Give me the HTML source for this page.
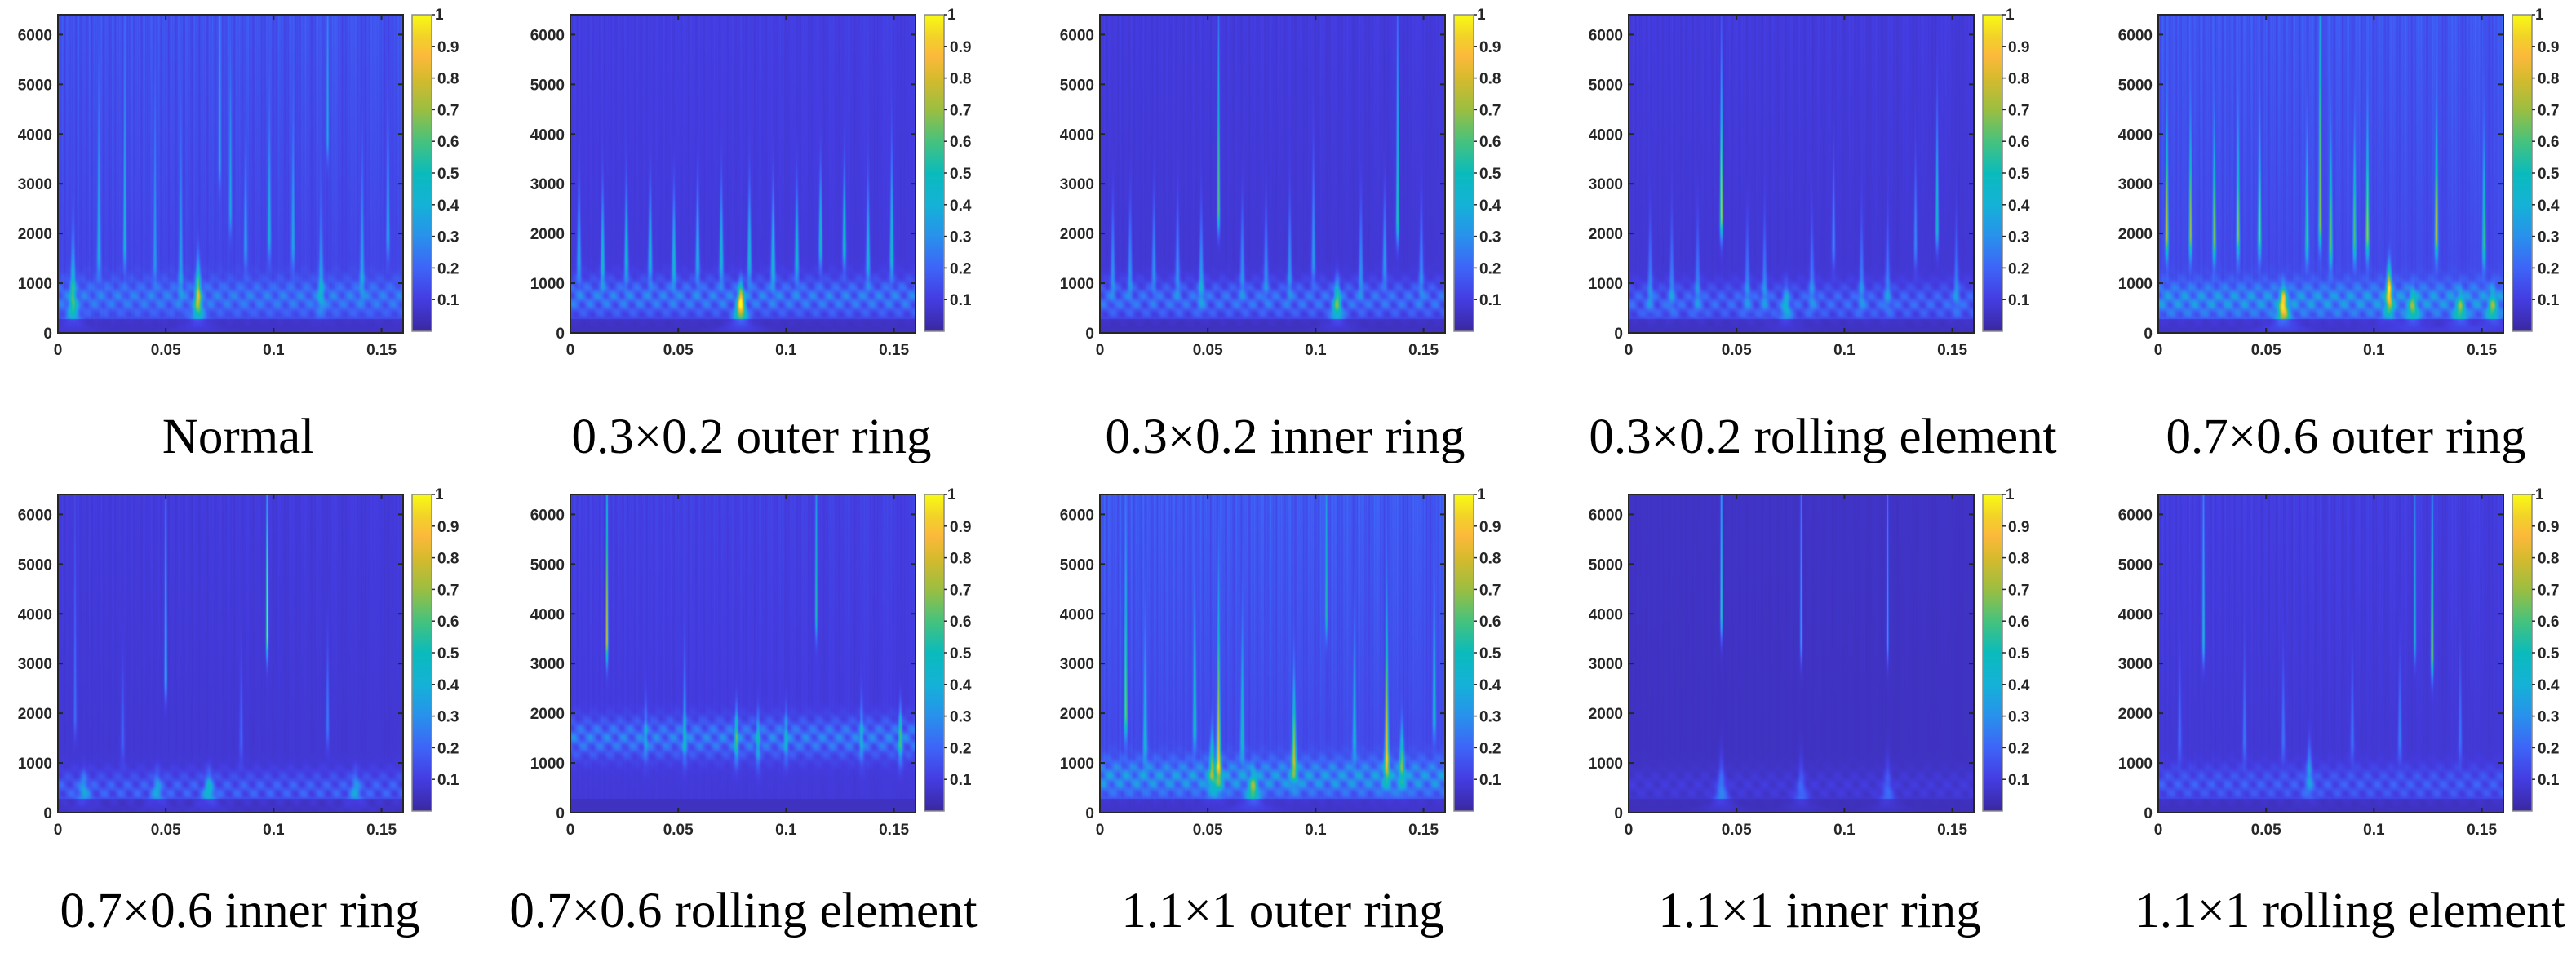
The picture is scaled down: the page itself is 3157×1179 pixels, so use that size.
<!DOCTYPE html>
<html><head><meta charset="utf-8">
<style>
html,body{margin:0;padding:0;background:#fff;}
#root{position:relative;width:3157px;height:1179px;overflow:hidden;background:#fff;}
canvas{position:absolute;}
svg{position:absolute;left:0;top:0;}
.tl{font-family:"Liberation Sans",sans-serif;font-weight:bold;font-size:19px;fill:#262626;}
.title{font-family:"Liberation Serif",serif;font-size:61px;fill:#000;}
</style></head>
<body>
<div id="root">
<svg id="ov" width="3157" height="1179"></svg>
</div>
<script>
const titles = ["Normal","0.3×0.2 outer ring","0.3×0.2 inner ring","0.3×0.2 rolling element","0.7×0.6 outer ring",
 "0.7×0.6 inner ring","0.7×0.6 rolling element","1.1×1 outer ring","1.1×1 inner ring","1.1×1 rolling element"];
const xTicks = [0,0.05,0.1,0.15];
const xTickLabels = ["0","0.05","0.1","0.15"];
const yTicks = [0,1000,2000,3000,4000,5000,6000];
const cbTicks = [0.1,0.2,0.3,0.4,0.5,0.6,0.7,0.8,0.9,1];
// levels: [background, lowBandAmp, lowBandFreq, striation]
const p1Level=[0.10,0.18,700,0.09];
const p1Times=[0.007,0.019,0.031,0.045,0.057,0.065,0.075,0.080,0.087,0.098,0.109,0.122,0.125,0.141,0.153];
const p1Amps =[0.40,0.30,0.30,0.22,0.22,0.60,0.30,0.25,0.25,0.30,0.25,0.25,0.32,0.25,0.30];
const p1Peaks=[600,1600,1800,1500,1200,700,3500,2500,1800,2000,1800,900,4000,1200,2000];
const p1Wup  =[1200,3000,3000,3000,2500,700,3000,2500,1500,2000,2000,1500,3000,2000,2000];
const p2Level=[0.08,0.22,700,0.04];
const p2Times=[0.004,0.015,0.026,0.037,0.048,0.059,0.070,0.079,0.083,0.094,0.105,0.116,0.127,0.138,0.149];
const p2Amps =[0.32,0.36,0.36,0.36,0.36,0.36,0.36,0.80,0.36,0.40,0.36,0.40,0.40,0.36,0.40];
const p2Peaks=[1500,1400,1500,1500,1400,1500,1500,600,1500,1400,1500,1800,1800,1500,1600];
const p2Wup  =[1300,1300,1300,1300,1300,1300,1300,350,1300,1300,1300,1300,1300,1300,1800];
const p3Level=[0.07,0.20,650,0.04];
const p3Times=[0.006,0.014,0.025,0.036,0.047,0.055,0.066,0.077,0.088,0.099,0.110,0.121,0.132,0.138,0.149];
const p3Amps =[0.22,0.22,0.22,0.22,0.26,0.55,0.22,0.22,0.22,0.26,0.45,0.22,0.26,0.50,0.22];
const p3Peaks=[1200,1200,1300,1200,1000,2500,1200,1200,1200,1500,600,1200,1400,2300,1200];
const p3Wup  =[1300,1300,1300,1300,1300,3500,1300,1300,1300,1800,450,1300,1300,3500,1300];
const p4Level=[0.07,0.17,600,0.04];
const p4Times=[0.010,0.020,0.032,0.043,0.055,0.063,0.073,0.085,0.095,0.108,0.120,0.133,0.143,0.152];
const p4Amps =[0.18,0.18,0.18,0.75,0.18,0.18,0.25,0.18,0.22,0.18,0.18,0.22,0.42,0.18];
const p4Peaks=[900,900,900,2400,900,900,500,900,1800,900,900,1800,2200,900];
const p4Wup  =[1300,1300,1300,2500,1300,1300,450,1300,1500,1300,1300,1500,2000,1300];
const p5Level=[0.11,0.25,650,0.09];
const p5Times=[0.004,0.015,0.026,0.037,0.047,0.058,0.069,0.075,0.080,0.091,0.097,0.107,0.118,0.129,0.140,0.151,0.155];
const p5Amps =[0.65,0.60,0.55,0.60,0.60,0.75,0.50,0.55,0.50,0.50,0.65,0.75,0.42,0.65,0.42,0.45,0.40];
const p5Peaks=[2000,2000,1900,2000,2000,550,1900,2200,1800,1900,2000,850,500,2000,450,1800,500];
const p5Wup  =[1800,1800,1800,1800,1800,350,1800,4000,1800,1800,1800,500,350,1800,350,1800,350];
const p6Level=[0.07,0.15,450,0.04];
const p6Times=[0.008,0.012,0.030,0.046,0.050,0.070,0.085,0.097,0.125,0.138];
const p6Amps =[0.15,0.20,0.12,0.20,0.42,0.28,0.12,0.80,0.18,0.18];
const p6Peaks=[2000,450,1500,450,2800,450,1500,3600,1800,450];
const p6Wup  =[4000,350,1500,350,3500,350,1500,3000,1500,350];
const p7Level=[0.08,0.22,1500,0.05];
const p7Times=[0.017,0.035,0.053,0.077,0.087,0.100,0.114,0.135,0.153];
const p7Amps =[0.75,0.18,0.25,0.40,0.25,0.22,0.42,0.22,0.40];
const p7Peaks=[3500,1500,1500,1500,1400,1500,4000,1500,1500];
const p7Wup  =[3000,800,1500,600,600,600,3000,800,600];
const p8Level=[0.11,0.25,700,0.10];
const p8Times=[0.012,0.021,0.044,0.052,0.055,0.066,0.071,0.090,0.105,0.118,0.133,0.140,0.155];
const p8Amps =[0.55,0.35,0.40,0.45,0.72,0.35,0.45,0.62,0.40,0.30,0.72,0.45,0.35];
const p8Peaks=[2000,1500,1800,900,1000,1500,450,1100,4000,1500,1100,1000,2000];
const p8Wup  =[3000,2000,2000,700,3000,2000,350,1400,3000,2000,2500,700,2000];
const p9Level=[0.05,0.05,500,0.015];
const p9Times=[0.043,0.043,0.080,0.080,0.120,0.120];
const p9Amps =[0.55,0.20,0.33,0.14,0.33,0.14];
const p9Peaks=[4000,300,3500,300,3500,300];
const p9Wup  =[4000,700,4000,700,4000,700];
const p10Level=[0.07,0.13,550,0.05];
const p10Times=[0.010,0.021,0.040,0.058,0.070,0.090,0.112,0.119,0.127,0.140];
const p10Amps =[0.14,0.45,0.16,0.16,0.22,0.16,0.18,0.32,0.70,0.16];
const p10Peaks=[1500,3500,1500,1500,800,1500,1500,3500,3200,1500];
const p10Wup  =[1500,3500,1500,1500,600,1500,1500,3500,3000,1500];

const panelData=[
 [p1Level,p1Times,p1Amps,p1Peaks,p1Wup],[p2Level,p2Times,p2Amps,p2Peaks,p2Wup],
 [p3Level,p3Times,p3Amps,p3Peaks,p3Wup],[p4Level,p4Times,p4Amps,p4Peaks,p4Wup],
 [p5Level,p5Times,p5Amps,p5Peaks,p5Wup],[p6Level,p6Times,p6Amps,p6Peaks,p6Wup],
 [p7Level,p7Times,p7Amps,p7Peaks,p7Wup],[p8Level,p8Times,p8Amps,p8Peaks,p8Wup],
 [p9Level,p9Times,p9Amps,p9Peaks,p9Wup],[p10Level,p10Times,p10Amps,p10Peaks,p10Wup]];

const colLeft=[71,699,1348,1996,2645];
const rowTop=[18,606], rowBot=[408,996];
const titleCx=[[292,921,1575,2234,2875],[294,911,1572,2230,2880]];
const titleBase=[555,1136];
const PW=423, XMAX=0.16, YMAX=6400;
const stops=[[0,[58,40,160]],[0.1,[68,60,225]],[0.2,[62,100,248]],[0.3,[40,145,236]],[0.4,[20,178,215]],
 [0.5,[10,187,188]],[0.6,[70,194,125]],[0.7,[155,190,65]],[0.8,[215,186,45]],[0.87,[252,185,60]],
 [0.93,[242,210,40]],[1,[249,250,20]]];
function parula(v){v=Math.max(0,Math.min(1,v));
 for(let i=1;i<stops.length;i++){if(v<=stops[i][0]){const a=stops[i-1],b=stops[i];const u=(v-a[0])/(b[0]-a[0]);
  return [0,1,2].map(k=>a[1][k]+(b[1][k]-a[1][k])*u);}}
 return stops[stops.length-1][1];}

const root=document.getElementById('root');
const svg=document.getElementById('ov');
const NS="http://www.w3.org/2000/svg";
function mk(tag,attrs,parent){const e=document.createElementNS(NS,tag);for(const k in attrs)e.setAttribute(k,attrs[k]);(parent||svg).appendChild(e);return e;}

for(let p=0;p<10;p++){
 const r=Math.floor(p/5), c=p%5;
 const L=colLeft[c], T=rowTop[r], B=rowBot[r], H=B-T;
 const [lv,times,amps,peaks,wup]=panelData[p];
 const sx=t=>L+t/XMAX*PW, sy=f=>B-f/YMAX*H;
 const cv=document.createElement('canvas');
 cv.width=PW;cv.height=H;cv.style.left=L+'px';cv.style.top=T+'px';
 
 
 root.insertBefore(cv,svg);
 const ctx=cv.getContext('2d');const img=ctx.createImageData(PW,H);
 for(let x=0;x<PW;x++){
  const t=(x+0.5)/PW*XMAX;
  const st=0.5+0.3*Math.sin(x*2.1)*Math.sin(x*0.77+1)+0.2*Math.sin(x*5.3+x*x*0.001);
  for(let y=0;y<H;y++){
   const f=(H-y-0.5)/H*YMAX;
   let v=lv[0];
   v+=lv[1]*Math.exp(-Math.pow((f-lv[2])/380,2))*(0.6+0.4*Math.cos(t*2*Math.PI*130+f/300)*Math.cos(f/60));
   v+=lv[3]*(0.2+f/YMAX)*st;
   const sig=0.9/Math.max(f,80)+0.0002;
   for(let i=0;i<times.length;i++){
    const w=f>peaks[i]?wup[i]:Math.min(450,peaks[i]*0.5+120);
    const dt=(t-times[i])/sig;
    if(Math.abs(dt)>4)continue;
    v+=amps[i]*Math.exp(-Math.pow((f-peaks[i])/w,2))*Math.exp(-dt*dt);
   }
   if(f<280)v=v*0.35+0.02;
   const col=parula(v);const o=(y*PW+x)*4;
   img.data[o]=col[0];img.data[o+1]=col[1];img.data[o+2]=col[2];img.data[o+3]=255;
  }}
 ctx.putImageData(img,0,0);
 const box=mk('rect',{x:L,y:T,width:PW,height:H,fill:'none',stroke:'#262626','stroke-width':2});
 
 
 yTicks.forEach(v=>{const yy=sy(v);
  mk('line',{x1:L,x2:L+6,y1:yy,y2:yy,stroke:'#262626','stroke-width':2});
  mk('line',{x1:L+PW-6,x2:L+PW,y1:yy,y2:yy,stroke:'#262626','stroke-width':2});
  const tx=mk('text',{x:L-7,y:yy+7,'text-anchor':'end',class:'tl'});tx.textContent=v;
  
  
 });
 xTicks.forEach((v,i)=>{const xx=sx(v);
  mk('line',{x1:xx,x2:xx,y1:B,y2:B-6,stroke:'#262626','stroke-width':2});
  mk('line',{x1:xx,x2:xx,y1:T,y2:T+6,stroke:'#262626','stroke-width':2});
  const tx=mk('text',{x:xx,y:B+27,'text-anchor':'middle',class:'tl'});tx.textContent=xTickLabels[i];
  
  
 });
 const cbL=L+434, cbW=24, cbT=T, cbB=B-2;
 const g=mk('linearGradient',{id:'cbg'+p,x1:0,y1:1,x2:0,y2:0});
 stops.forEach(s=>mk('stop',{offset:s[0],'stop-color':'rgb('+s[1].map(Math.round).join(',')+')'},g));
 const cb=mk('rect',{x:cbL,y:cbT,width:cbW,height:cbB-cbT,fill:'url(#cbg'+p+')',stroke:'#8a8a8a','stroke-width':1.5});
 
 
 cbTicks.forEach(v=>{const yy=cbB-v*(cbB-cbT);
  mk('line',{x1:cbL+cbW,x2:cbL+cbW+4,y1:yy,y2:yy,stroke:'#262626','stroke-width':1.5});
  const tx=mk('text',{x:cbL+cbW+(v===1?4:7),y:yy+(v===1?6:7),class:'tl'});tx.textContent=String(v);
  
  
 });
 const tt=mk('text',{x:titleCx[r][c],y:titleBase[r],'text-anchor':'middle',class:'title'});
 tt.textContent=titles[p];
 
 
}
</script>
</body></html>
